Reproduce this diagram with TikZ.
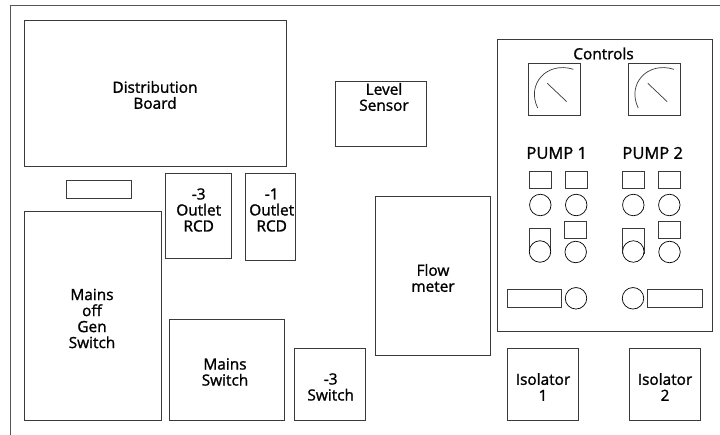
\documentclass[tikz,border=0pt]{standalone}
\usepackage{fontspec}
\setmainfont{Open Sans}[FakeBold=1.3]
\definecolor{pnlline}{HTML}{3A3A3A}
\definecolor{pnlframe}{HTML}{555555}
\newcommand{\pnldial}[2]{%
  \node[pnlbox,minimum width=52,minimum height=52] (dial#1) at (#2,89){};
  \draw[pnlthin] (#2-16.3,108) .. controls (#2-28,84) and (#2-7,61) .. (#2+19.3,69.3);
  \draw[pnlthin] (#2-6.7,83.3) -- (#2+12.7,101.7);}
\begin{document}
\begin{tikzpicture}[x=1pt,y=-1pt,
  pnlbox/.style={draw=pnlline,line width=0.8pt,rectangle,inner sep=0pt,outer sep=0pt},
  pnlthin/.style={draw=pnlline,line width=0.7pt},
  pnlknob/.style={draw=black,line width=0.7pt,fill=white,circle,inner sep=0pt,minimum size=21.5},
  pnltext/.style={font=\fontsize{15.4}{16}\selectfont,align=center,inner sep=0pt,text=black}]
  \useasboundingbox (0,0) rectangle (720,435);
  \fill[white] (0,0) rectangle (720,435);
  \draw[pnlframe,line width=0.9pt] (10,435) -- (10,5) -- (720,5);
  % boxes
  \foreach \n/\x/\y/\w/\h in {board/155.5/93/262/146,level/380.8/113.5/90.5/65,flow/432.7/275.8/114.5/158.5,
    spare/98.5/189/65/18,rcdA/198.5/216/66/84.5,rcdB/270/216.5/50/87,gen/92.75/316/136.5/208.5,
    mains/226.5/370/115/100.5,sw/329.7/384.5/71.3/72,isoA/542.8/384.5/71/72,isoB/664.8/384.5/71/72,
    ctrl/604.5/185.5/215/291.5}{%
    \node[pnlbox,minimum width=\w,minimum height=\h] (\n) at (\x,\y){};}
  \pnldial{A}{554}
  \pnldial{B}{654.5}
  % labels
  \node[pnltext] (tboard) at (155,95){Distribution\\Board};
  \node[pnltext] (tlevel) at (384,97){Level\\Sensor};
  \node[pnltext] (tflow) at (433,278){Flow\\meter};
  \node[pnltext] (trcdA) at (198.7,210){-3\\Outlet\\RCD};
  \node[pnltext] (trcdB) at (271.7,210){-1\\Outlet\\RCD};
  \node[pnltext] (tgen) at (92,318.5){Mains\\off\\Gen\\Switch};
  \node[pnltext] (tmains) at (225,372){Mains\\Switch};
  \node[pnltext] (tsw) at (330.7,387){-3\\Switch};
  \node[pnltext] (tisoA) at (543,387){Isolator\\1};
  \node[pnltext] (tisoB) at (665,387){Isolator\\2};
  \node[pnltext] (tctrl) at (603.5,53.5){Controls};
  \node[pnltext,font=\fontsize{16.5}{17}\selectfont] (tpumpA) at (556.7,153){PUMP 1};
  \node[pnltext,font=\fontsize{16.5}{17}\selectfont] (tpumpB) at (652.7,153){PUMP 2};
  % switch row
  \foreach \n/\x in {a/540.3,b/576.2,c/633.3,d/669.3}{%
    \node[pnlbox,minimum width=22,minimum height=17] (top\n) at (\x,180){};
    \node[pnlknob] (knob\n) at (\x,205){};}
  % lamp row
  \foreach \n/\x in {a/540,c/633.3}{%
    \node[pnlbox,minimum width=21.5,minimum height=25] (lamp\n) at (\x,241){};
    \node[pnlknob] (run\n) at (\x,251.5){};}
  \foreach \n/\x in {b/575.7,d/669.5}{%
    \node[pnlbox,minimum width=22,minimum height=17] (lamp\n) at (\x,230){};
    \node[pnlknob] (run\n) at (\x,252){};}
  % bottom row
  \node[pnlbox,minimum width=54,minimum height=18] (meterA) at (534.3,298.3){};
  \node[pnlknob] (startA) at (576,298.3){};
  \node[pnlknob] (startB) at (633,298.3){};
  \node[pnlbox,minimum width=54.5,minimum height=17.5] (meterB) at (675,298.6){};
\end{tikzpicture}
\end{document}
